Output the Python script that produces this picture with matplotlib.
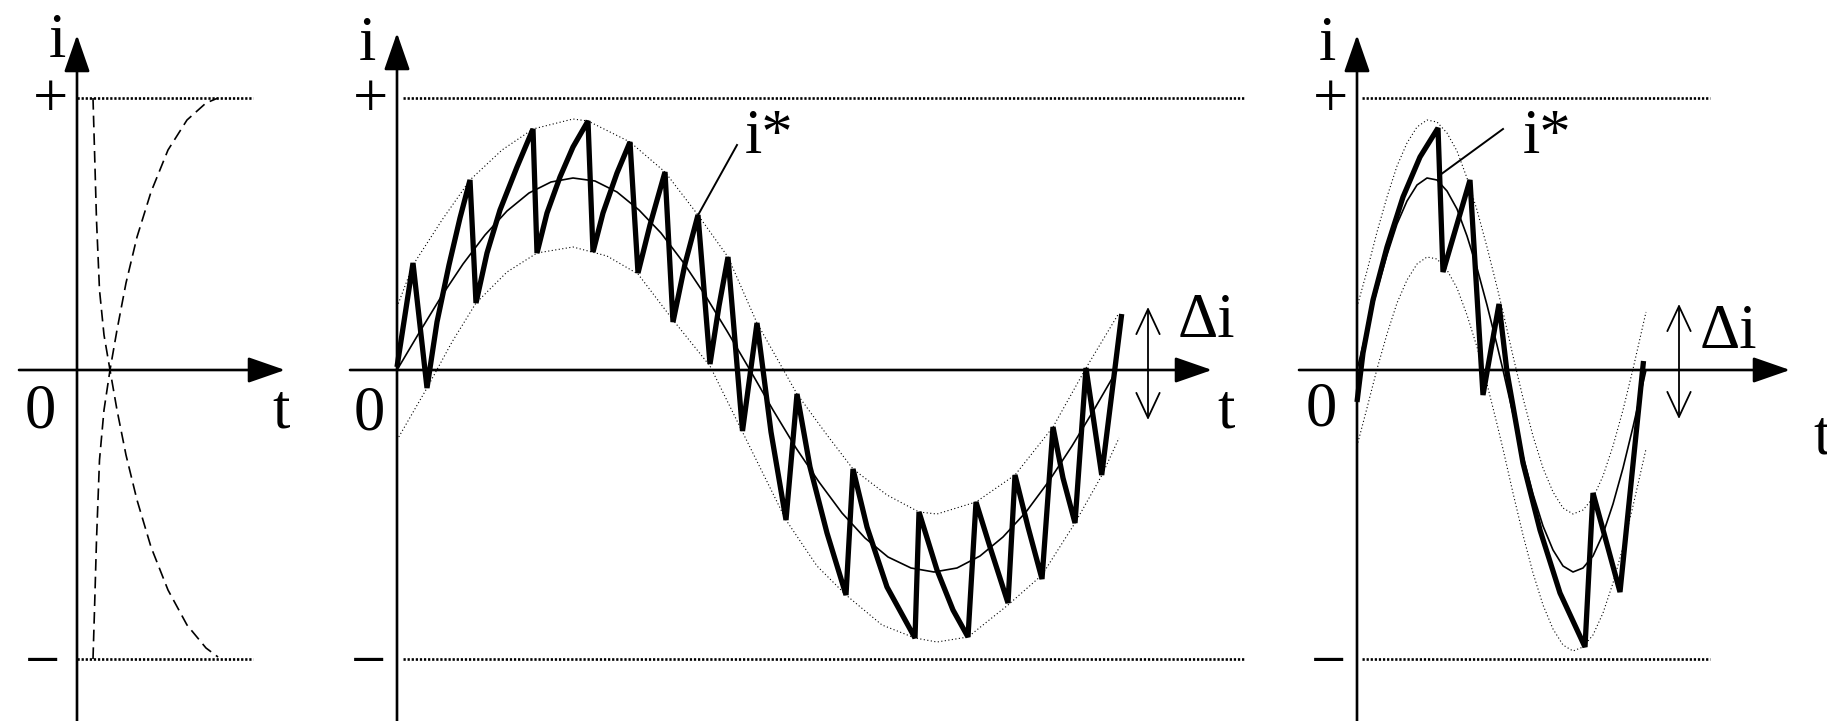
import matplotlib
matplotlib.use("Agg")
import matplotlib.pyplot as plt
from matplotlib.patches import FancyArrowPatch

plt.rcParams['font.family'] = ['Liberation Serif', 'DejaVu Serif']

W, H = 1827, 721

# switching levels of the inverter output current
I_POS, I_NEG = 272, -289

# --- panel 1: current swinging between the two levels
sw_t = [16, 17.5, 19.5, 22.5, 27, 33, 40, 49, 60, 74, 91, 110, 129, 141]
sw_down = [272, 220, 150, 80, 35, 0, -40, -85, -130, -177, -220, -255, -278, -287]
sw_up = [-289, -240, -170, -90, -40, 0, 40, 87, 133, 178, 220, 250, 267, 272]

# --- panel 2: reference i*, hysteresis band and actual current (low frequency)
ref2_t = [0, 22, 44, 66, 88, 110, 132, 154, 176, 198, 220, 242, 264, 286, 308, 330, 353,
          376, 399, 422, 445, 468, 491, 514, 537, 560, 583, 606, 629, 652, 675, 698, 720]
ref2_i = [0, 37, 73, 106, 135, 159, 177, 188, 192, 189, 178, 160, 137, 108, 75, 39, 0,
          -40, -78, -112, -143, -168, -187, -198, -202, -198, -186, -167, -142, -111, -76, -38, 0]

up2_t = [0, 16, 45, 73, 105, 136, 176, 191, 233, 268, 301, 331, 360, 400,
         430, 456, 490, 522, 540, 579, 618, 656, 689, 722]
up2_i = [63, 105, 150, 190, 220, 241, 251, 249, 228, 198, 155, 113, 47, -24,
         -65, -99, -125, -142, -144, -132, -105, -57, 2, 57]

lo2_t = [0, 30, 55, 79, 110, 140, 176, 210, 241, 276, 313, 345, 389, 420,
         449, 485, 518, 540, 571, 611, 645, 678, 705, 722]
lo2_i = [-70, -18, 28, 67, 98, 117, 123, 114, 96, 50, 4, -61, -150, -196,
         -225, -255, -268, -272, -267, -235, -205, -153, -105, -68]

cur2_t = [0, 16, 30, 40, 52, 63, 73, 79, 90, 103, 120, 136, 140, 150, 163, 176,
          191, 196, 206, 220, 233, 241, 253, 268, 276, 288, 301, 313, 322, 331, 345.5,
          360, 374, 389, 400, 413, 430, 449, 456, 470, 490, 518, 522, 540, 556,
          571, 579, 593, 611, 618, 631, 645, 656, 666, 678, 689, 704.7, 724.7]
cur2_i = [3, 107, -18, 48, 105, 152, 190, 67, 117, 160, 203, 241, 117, 157, 193, 223,
          249, 118, 157, 197, 228, 97, 145, 198, 48, 106, 155, 6, 64, 113, -61,
          47, -62, -150, -24, -97, -163, -225, -99, -157, -217, -268, -142, -200,
          -240, -267, -132, -177, -233, -105, -157, -209, -57, -108, -153, 2, -105, 56]

# --- panel 3: same band, higher reference frequency
ref3_t = [0, 10, 20, 30, 40, 50, 60, 70, 80, 90, 100, 110, 120, 130, 140, 146,
          156, 166, 176, 186, 196, 206, 216, 226, 236, 246, 256, 266, 276, 289]
ref3_i = [0, 41, 80, 115, 146, 169, 185, 192, 190, 179, 161, 134, 102, 65, 25, 0,
          -44, -86, -124, -156, -180, -196, -202, -198, -186, -164, -134, -98, -57, 0]
up3_i = [63, 99, 138, 173, 204, 227, 243, 250, 248, 237, 219, 192, 160, 123, 83, 58,
         14, -28, -66, -98, -122, -138, -144, -140, -128, -106, -76, -40, 1, 58]
lo3_i = [-76, -38, 1, 36, 67, 90, 106, 113, 111, 100, 82, 55, 23, -14, -54, -79,
         -123, -165, -203, -235, -259, -275, -281, -277, -265, -243, -213, -177, -136, -79]

cur3_t = [0, 6, 16, 30, 46, 63, 81, 86, 113, 126, 142, 150, 166, 183, 203,
          228, 236, 263, 286.5]
cur3_i = [-32, 17, 70, 123, 173, 213, 242, 98, 190, -25, 66, -2, -93, -160,
          -223, -277, -123, -222, 9]

fig = plt.figure(figsize=(W / 100, H / 100), dpi=100)

AX_LW = 1.9
LEVEL_STYLE = dict(color='k', lw=1.9, ls=(0, (0.85, 0.7)))
BAND_STYLE = dict(color='k', lw=0.8, ls=(0, (1, 2.2)))
THICK = dict(color='k', lw=3.8, solid_joinstyle='bevel', solid_capstyle='butt')
FS = 45


def panel(ox, oy):
    ax = fig.add_axes([0, 0, 1, 1])
    ax.set_xlim(-ox, W - ox)
    ax.set_ylim(oy - H, oy)
    ax.axis('off')
    ax.patch.set_alpha(0)
    return ax


def axes_arrows(ax, t0, t1, i_bot, i_top):
    for a, b in [((t0, 0), (t1, 0)), ((0, i_bot), (0, i_top))]:
        ax.add_patch(FancyArrowPatch(a, b, arrowstyle='-|>,head_length=23,head_width=8',
                                     mutation_scale=1, lw=AX_LW, color='k',
                                     shrinkA=0, shrinkB=0))


def labels(ax, i_x, i_base, plus_x, zero_x, zero_base, minus_x, t_x, t_base, t_ha='center'):
    ax.text(i_x, i_base, 'i', fontsize=FS, ha='center', va='baseline')
    ax.text(plus_x, 253, '+', fontsize=FS, ha='center', va='baseline')
    ax.text(zero_x, zero_base, '0', fontsize=FS, ha='center', va='baseline')
    ax.text(minus_x, -310, '\u2212', fontsize=FS, ha='center', va='baseline')
    ax.text(t_x, t_base, 't', fontsize=FS, ha=t_ha, va='baseline')


def delta_i(ax, t, i_top, i_bot, tx, tb):
    ax.add_patch(FancyArrowPatch((t, i_bot), (t, i_top), arrowstyle='<->,head_length=18,head_width=8.4',
                                 mutation_scale=1, lw=1.3, color='k', shrinkA=0, shrinkB=0))
    ax.text(tx, tb, '\u0394i', fontsize=FS, ha='left', va='baseline')


# panel 1
ax1 = panel(77, 370)
ax1.plot([0, 176], [I_POS, I_POS], **LEVEL_STYLE)
ax1.plot([0, 176], [I_NEG, I_NEG], **LEVEL_STYLE)
ax1.plot(sw_t, sw_down, color='k', lw=1.2, ls=(0, (7, 3.6)))
ax1.plot(sw_t, sw_up, color='k', lw=1.2, ls=(0, (7, 3.6)))
axes_arrows(ax1, -58, 208, -360, 335)
labels(ax1, -19.5, 313, -27, -37, -58, -34.5, 204.5, -58)

# panel 2
ax2 = panel(397, 370)
ax2.plot([6, 847], [I_POS, I_POS], **LEVEL_STYLE)
ax2.plot([6, 847], [I_NEG, I_NEG], **LEVEL_STYLE)
ax2.plot(up2_t, up2_i, **BAND_STYLE)
ax2.plot(lo2_t, lo2_i, **BAND_STYLE)
ax2.plot(ref2_t, ref2_i, color='k', lw=1.2)
ax2.plot(cur2_t, cur2_i, **THICK)
ax2.plot([300, 340], [153, 225], color='k', lw=1.4)
ax2.text(348, 217, 'i*', fontsize=FS, ha='left', va='baseline')
axes_arrows(ax2, -47, 815, -360, 337)
labels(ax2, -30, 310, -27, -28, -59, -28.5, 829, -57)
delta_i(ax2, 751, 63, -50, 781, 33)

# panel 3
ax3 = panel(1357, 370)
ax3.plot([5, 353], [I_POS, I_POS], **LEVEL_STYLE)
ax3.plot([5, 353], [I_NEG, I_NEG], **LEVEL_STYLE)
ax3.plot(ref3_t, up3_i, **BAND_STYLE)
ax3.plot(ref3_t, lo3_i, **BAND_STYLE)
ax3.plot(ref3_t, ref3_i, color='k', lw=1.2)
ax3.plot(cur3_t, cur3_i, **THICK)
ax3.plot([83, 146], [195, 241], color='k', lw=1.4)
ax3.text(166, 217, 'i*', fontsize=FS, ha='left', va='baseline')
axes_arrows(ax3, -58, 433, -360, 335)
labels(ax3, -30, 310, -27, -36, -55, -28, 456, -84, t_ha='left')
delta_i(ax3, 322, 66, -49, 343, 22)

fig.savefig('out.png', dpi=100, facecolor='white')
